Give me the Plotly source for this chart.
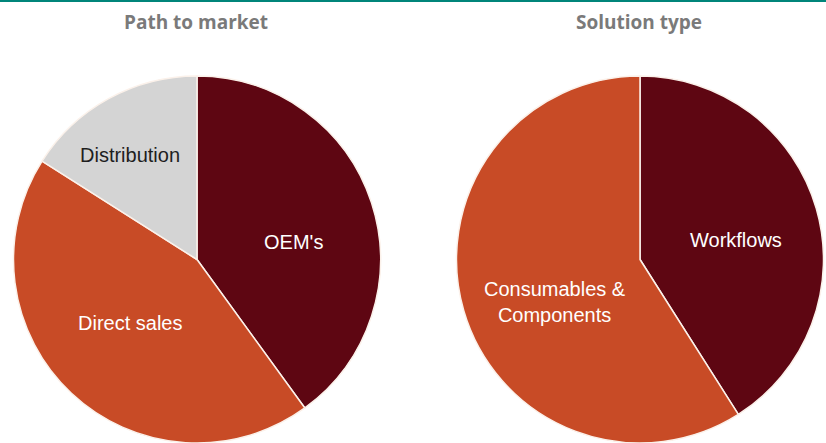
import plotly.graph_objects as go

# Path to market split (%)
path_labels = ["OEM's", "Direct sales", "Distribution"]
path_values = [40, 44, 16]
path_colors = ["#5e0612", "#c84b26", "#d4d4d4"]

# Solution type split (%)
solution_labels = ["Workflows", "Consumables &<br>Components"]
solution_values = [41, 59]
solution_colors = ["#5e0612", "#c84b26"]

titles = ["Path to market", "Solution type"]

W, H = 826, 443

def px_x(x):
    return x / W

def px_y(y):
    return 1 - y / H

fig = go.Figure()

fig.add_trace(go.Pie(
    labels=path_labels, values=path_values, sort=False,
    direction="clockwise", rotation=0,
    marker=dict(colors=path_colors, line=dict(color="#fbf1ea", width=1.5)),
    textinfo="none", hoverinfo="label+percent", showlegend=False,
    domain=dict(x=[px_x(13), px_x(381)], y=[0, px_y(76)]),
))

fig.add_trace(go.Pie(
    labels=solution_labels, values=solution_values, sort=False,
    direction="clockwise", rotation=0,
    marker=dict(colors=solution_colors, line=dict(color="#fbf1ea", width=1.5)),
    textinfo="none", hoverinfo="label+percent", showlegend=False,
    domain=dict(x=[px_x(456), px_x(824)], y=[0, px_y(76)]),
))

label_font = dict(family="Liberation Sans, Arial, sans-serif", size=20)

# slice labels
slice_text = [
    (path_labels[0], 293, 242, "#ffffff"),
    (path_labels[1], 130, 323, "#ffffff"),
    (path_labels[2], 130, 155, "#1e1e1e"),
    (solution_labels[0], 736, 240, "#ffffff"),
    (solution_labels[1], 555, 302, "#ffffff"),
]
annotations = []
for text, x, y, color in slice_text:
    annotations.append(dict(
        text=text, x=px_x(x), y=px_y(y), xref="paper", yref="paper",
        showarrow=False, xanchor="center", yanchor="middle",
        font=dict(color=color, **label_font),
    ))

# chart titles
for title, x in zip(titles, [196, 639]):
    annotations.append(dict(
        text="<b>" + title + "</b>", x=px_x(x), y=px_y(22), xref="paper", yref="paper",
        showarrow=False, xanchor="center", yanchor="middle",
        font=dict(family="Open Sans, sans-serif", size=19, color="#7a7a7a"),
    ))

fig.update_layout(
    width=W, height=H,
    margin=dict(l=0, r=0, t=0, b=0),
    paper_bgcolor="#ffffff", plot_bgcolor="#ffffff",
    annotations=annotations,
    shapes=[dict(type="rect", xref="paper", yref="paper",
                 x0=0, x1=1, y0=1 - 2 / H, y1=1,
                 fillcolor="#00857a", line=dict(width=0))],
)

fig.write_html("out.html")
